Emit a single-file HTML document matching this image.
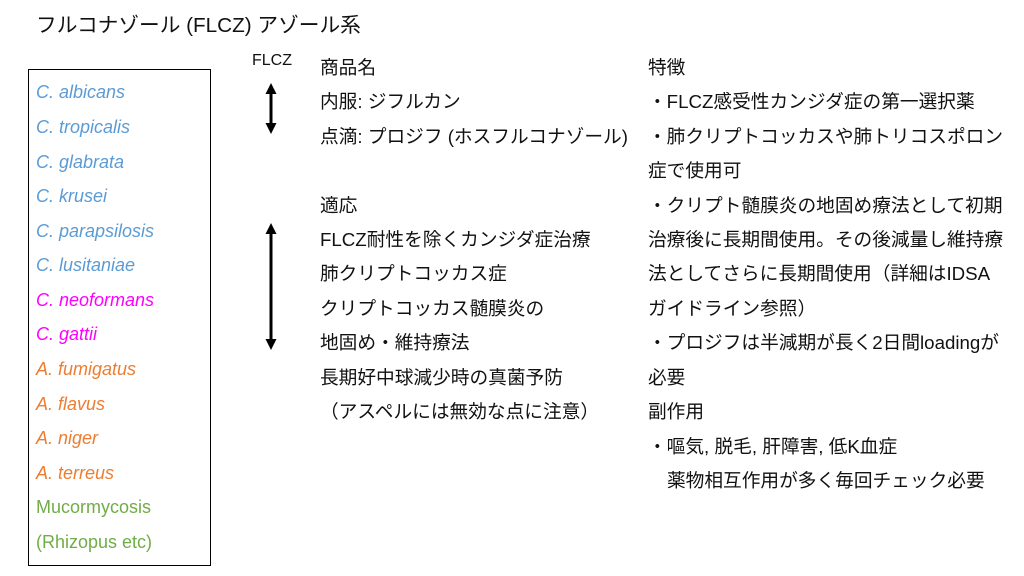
<!DOCTYPE html>
<html><head><meta charset="utf-8"><style>
body{margin:0;width:1024px;height:576px;background:#fff;position:relative;overflow:hidden;font-family:"Liberation Sans","Noto Sans CJK JP",sans-serif;color:#111}
.t{position:absolute;white-space:nowrap;font-size:18.7px;line-height:20px}
.i{font-style:italic}
.b{color:#5b9bd5}.m{color:#ff00ff}.o{color:#ed7d31}.g{color:#70ad47}
</style></head><body>
<div class="t" style="left:36px;top:13px;font-size:20.7px;line-height:26px">フルコナゾール (FLCZ) アゾール系</div>
<div style="position:absolute;left:28px;top:69px;width:181px;height:495px;border:1px solid #000"></div>
<div class="t i b" style="left:36px;top:82px;font-size:18px">C. albicans</div>
<div class="t i b" style="left:36px;top:117px;font-size:18px">C. tropicalis</div>
<div class="t i b" style="left:36px;top:152px;font-size:18px">C. glabrata</div>
<div class="t i b" style="left:36px;top:186px;font-size:18px">C. krusei</div>
<div class="t i b" style="left:36px;top:221px;font-size:18px">C. parapsilosis</div>
<div class="t i b" style="left:36px;top:255px;font-size:18px">C. lusitaniae</div>
<div class="t i m" style="left:36px;top:290px;font-size:18px">C. neoformans</div>
<div class="t i m" style="left:36px;top:324px;font-size:18px">C. gattii</div>
<div class="t i o" style="left:36px;top:359px;font-size:18px">A. fumigatus</div>
<div class="t i o" style="left:36px;top:394px;font-size:18px">A. flavus</div>
<div class="t i o" style="left:36px;top:428px;font-size:18px">A. niger</div>
<div class="t i o" style="left:36px;top:463px;font-size:18px">A. terreus</div>
<div class="t g" style="left:36px;top:497px;font-size:18px">Mucormycosis</div>
<div class="t g" style="left:36px;top:532px;font-size:18px">(Rhizopus etc)</div>
<div class="t" style="left:252px;top:51px;font-size:16px">FLCZ</div>
<svg style="position:absolute;left:0;top:0" width="1024" height="576">
<g stroke="#000" stroke-width="3"><line x1="271" y1="92" x2="271" y2="125"/><line x1="271" y1="232" x2="271" y2="341"/></g>
<g fill="#000"><polygon points="271,83 265.5,94 276.5,94"/><polygon points="271,134 265.5,123 276.5,123"/><polygon points="271,223 265.5,234 276.5,234"/><polygon points="271,350 265.5,339 276.5,339"/></g>
</svg>
<div class="t" style="left:320px;top:58px">商品名</div>
<div class="t" style="left:320px;top:92px">内服: ジフルカン</div>
<div class="t" style="left:320px;top:127px">点滴: プロジフ (ホスフルコナゾール)</div>
<div class="t" style="left:320px;top:196px">適応</div>
<div class="t" style="left:320px;top:230px">FLCZ耐性を除くカンジダ症治療</div>
<div class="t" style="left:320px;top:264px">肺クリプトコッカス症</div>
<div class="t" style="left:320px;top:299px">クリプトコッカス髄膜炎の</div>
<div class="t" style="left:320px;top:333px">地固め・維持療法</div>
<div class="t" style="left:320px;top:368px">長期好中球減少時の真菌予防</div>
<div class="t" style="left:320px;top:402px">（アスペルには無効な点に注意）</div>
<div class="t" style="left:648px;top:58px">特徴</div>
<div class="t" style="left:648px;top:92px">・FLCZ感受性カンジダ症の第一選択薬</div>
<div class="t" style="left:648px;top:127px">・肺クリプトコッカスや肺トリコスポロン</div>
<div class="t" style="left:648px;top:161px">症で使用可</div>
<div class="t" style="left:648px;top:196px">・クリプト髄膜炎の地固め療法として初期</div>
<div class="t" style="left:648px;top:230px">治療後に長期間使用。その後減量し維持療</div>
<div class="t" style="left:648px;top:264px">法としてさらに長期間使用（詳細はIDSA</div>
<div class="t" style="left:648px;top:299px">ガイドライン参照）</div>
<div class="t" style="left:648px;top:333px">・プロジフは半減期が長く2日間loadingが</div>
<div class="t" style="left:648px;top:368px">必要</div>
<div class="t" style="left:648px;top:402px">副作用</div>
<div class="t" style="left:648px;top:437px">・嘔気, 脱毛, 肝障害, 低K血症</div>
<div class="t" style="left:667px;top:471px">薬物相互作用が多く毎回チェック必要</div>
</body></html>
